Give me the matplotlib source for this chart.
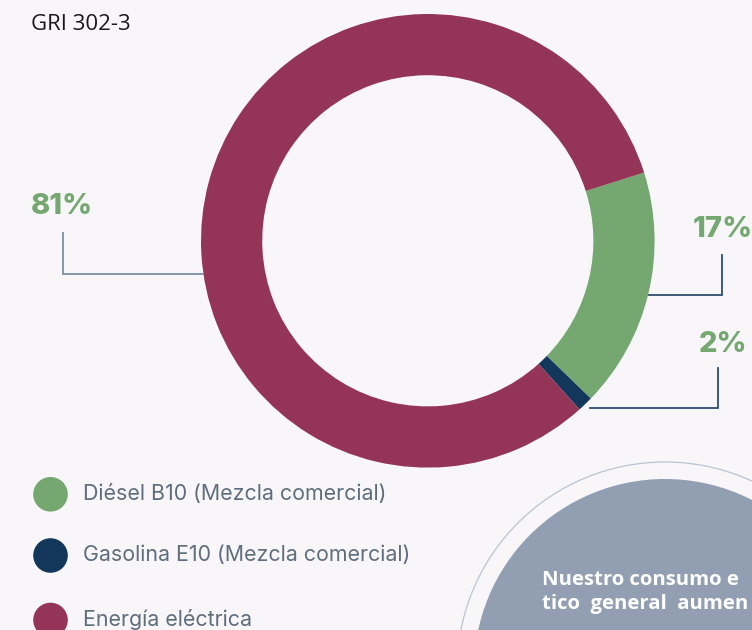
import matplotlib
matplotlib.use("Agg")
import matplotlib.pyplot as plt
from matplotlib.patches import Circle

# ---- data ----
categories = ["Diésel B10 (Mezcla comercial)",
              "Gasolina E10 (Mezcla comercial)",
              "Energía eléctrica"]
values = [17.1, 1.1, 81.8]          # shares read from the ring
pct_labels = ["17%", "2%", "81%"]
colors = ["#74a870", "#13375a", "#943558"]

title_text = "GRI 302-3"
note_lines = ["Nuestro consumo e", "tico  general  aumen"]

BG = "#f8f6f9"
W, H = 752, 630

fig = plt.figure(figsize=(W / 100, H / 100), dpi=100, facecolor=BG)
ax = fig.add_axes([0, 0, 1, 1])
ax.set_facecolor(BG)

def Y(y):  # pixel row (from top) -> data y
    return H - y

# ---- donut ----
cx, cy, R = 427.8, Y(240.8), 226.8
ax.pie(values, colors=colors, startangle=17.5, counterclock=False,
       center=(cx, cy), radius=R,
       wedgeprops=dict(width=R * 0.27, linewidth=0))

# ---- leader lines and percentage labels ----
pct_font = dict(family=["Inter", "DejaVu Sans"], fontweight="heavy",
                fontsize=21, color="#74a870")
# 81%
ax.plot([63, 63, 203], [Y(233), Y(273.5), Y(273.5)], color="#7b8fa5", lw=1.3,
        solid_joinstyle="miter")
ax.text(62, Y(207), pct_labels[2], ha="center", va="center", **pct_font)
# 17%
ax.plot([649, 721.5, 721.5], [Y(295), Y(295), Y(255)], color="#2f4c6e", lw=1.3,
        solid_joinstyle="miter")
ax.text(723, Y(229.5), pct_labels[0], ha="center", va="center", **pct_font)
# 2%
ax.plot([590, 718.3, 718.3], [Y(408), Y(408), Y(368)], color="#2f4c6e", lw=1.3,
        solid_joinstyle="miter")
ax.text(723, Y(344.5), pct_labels[1], ha="center", va="center", **pct_font)

# ---- title ----
ax.text(31, Y(24), title_text, ha="left", va="center",
        family=["Open Sans", "DejaVu Sans"], fontsize=16, color="#1a1a1a")

# ---- legend ----
leg_y = [494.3, 555.5, 620]
for name, col, yy in zip(categories, colors, leg_y):
    ax.add_patch(Circle((50.5, Y(yy)), 17.3, color=col, lw=0))
    ax.text(83, Y(yy), name, ha="left", va="center",
            family=["Inter", "DejaVu Sans"], fontsize=15.4, color="#5f6e7c")

# ---- decorative circle with note ----
ax.add_patch(Circle((665, Y(670)), 208, facecolor="none",
                    edgecolor="#b9c5cf", lw=0.9))
ax.add_patch(Circle((665, Y(670)), 191, facecolor="#929fb2", lw=0))
for i, line in enumerate(note_lines):
    ax.text(542, Y(585 + 23.5 * i), line, ha="left", va="baseline",
            family=["Open Sans", "DejaVu Sans"], fontweight="bold",
            fontsize=14.6, color="white")

ax.set_xlim(0, W)
ax.set_ylim(0, H)
ax.set_aspect("equal")
ax.axis("off")

fig.savefig("out.png", dpi=100, facecolor=BG)
